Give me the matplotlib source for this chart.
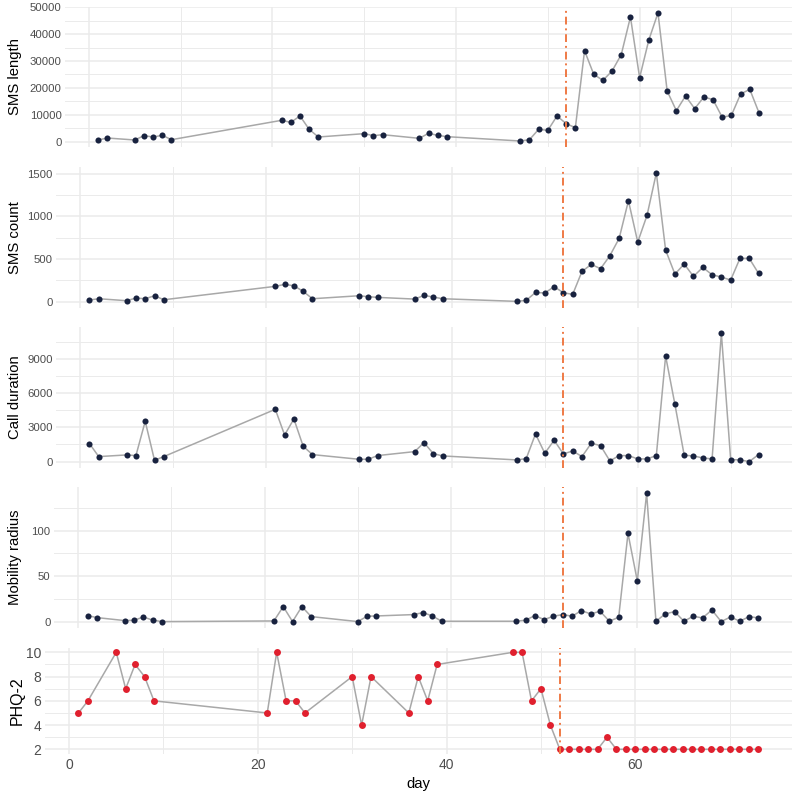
"""plot.py - daily phone sensing features and PHQ-2 scores"""

import matplotlib
matplotlib.use("Agg")
import matplotlib.pyplot as plt

# === DATA ===
DAYS = [1, 2, 5, 6, 7, 8, 9,
        21, 22, 23, 24, 25,
        30, 31, 32,
        36, 37, 38, 39,
        47, 48, 49, 50, 51, 52, 53, 54, 55, 56, 57, 58, 59, 60,
        61, 62, 63, 64, 65, 66, 67, 68, 69, 70, 71, 72, 73]

SMS_LENGTH = [620, 1360, 620, 2230, 1740, 2360, 740,
              7940, 7190, 9550, 4590, 1740,
              2980, 2230, 2600,
              1240, 3100, 2360, 1860,
              250, 740, 4590, 4220, 9550, 6700, 5200, 33850, 25050, 22800,
              26300, 32400, 46400, 23800,
              37800, 47900, 18850, 11530, 16990, 12280, 16620, 15620,
              9050, 9800, 17730, 19470, 10790]

SMS_COUNT = [20, 35, 12, 43, 35, 70, 23,
             180, 203, 187, 121, 35,
             70, 59, 51,
             31, 74, 55, 35,
             4, 16, 109, 102, 176, 105, 86, 355, 437, 387, 539, 742, 1183, 699,
             1012, 1508, 605, 324, 441, 297, 402, 316, 289, 254, 508, 508, 332]

CALL_DURATION = [1577, 438, 584, 526, 3533, 117, 438,
                 4584, 2336, 3738, 1343, 613,
                 204, 204, 526,
                 876, 1664, 701, 496,
                 146, 263, 2424, 730, 1869, 672, 934, 438, 1606, 1402, 58,
                 526, 526, 234,
                 234, 526, 9256, 5022, 555, 496, 321, 234, 11242, 175, 146,
                 0, 613]

MOBILITY_RADIUS = [6.6, 4.4, 1.1, 1.5, 5.1, 1.5, 0,
                   0.7, 16.5, 0, 16.5, 5.5,
                   0, 5.9, 6.2,
                   7.7, 9.9, 6.2, 0.4,
                   0.4, 1.5, 6.6, 2.2, 5.9, 7.7, 5.9, 12.1, 8.4, 11.4, 0.4,
                   4.8, 97, 44.7,
                   141, 0.4, 8.4, 11, 0.4, 5.9, 4, 12.8, 0, 5.1, 0.4, 5.5, 4]

PHQ2 = [5, 6, 10, 7, 9, 8, 6,
        5, 10, 6, 6, 5,
        8, 4, 8,
        5, 8, 6, 9,
        10, 10, 6, 7, 4, 2, 2, 2, 2, 2, 3, 2, 2, 2,
        2, 2, 2, 2, 2, 2, 2, 2, 2, 2, 2, 2, 2]

CHANGE_DAY = 52

X_MAJOR = [0, 20, 40, 60]
X_MINOR = [10, 30, 50, 70]

# === STYLE ===
FONT = ["Liberation Sans", "DejaVu Sans"]
plt.rcParams["font.family"] = FONT

FIG_W, FIG_H = 800, 795
GRID = "#EBEBEB"
LINE = "#A8A8A8"
NAVY = "#18223F"
RED = "#E0202E"
ORANGE = "#EF7A45"
TICK_TEXT = "#4D4D4D"

# panel boxes in pixels: left, top, right, bottom
PANELS = [
    dict(box=(65, 6.5, 792, 147.4), y=SMS_LENGTH, label="SMS length",
         major=[0, 10000, 20000, 30000, 40000, 50000],
         minor=[5000, 15000, 25000, 35000, 45000], color=NAVY),
    dict(box=(56, 166.6, 792, 307.8), y=SMS_COUNT, label="SMS count",
         major=[0, 500, 1000, 1500], minor=[250, 750, 1250], color=NAVY),
    dict(box=(56, 327, 792, 468), y=CALL_DURATION, label="Call duration",
         major=[0, 3000, 6000, 9000], minor=[1500, 4500, 7500, 10500],
         color=NAVY),
    dict(box=(54, 487, 792, 628), y=MOBILITY_RADIUS, label="Mobility radius",
         major=[0, 50, 100], minor=[25, 75, 125], color=NAVY),
    dict(box=(44.5, 647.5, 792, 754.2), y=PHQ2, label="PHQ-2",
         major=[2, 4, 6, 8, 10], minor=[3, 5, 7, 9], color=RED),
]

fig = plt.figure(figsize=(FIG_W / 100, FIG_H / 100), dpi=100)

for i, panel in enumerate(PANELS):
    left, top, right, bottom = panel["box"]
    ax = fig.add_axes([left / FIG_W, 1 - bottom / FIG_H,
                       (right - left) / FIG_W, (bottom - top) / FIG_H])
    is_last = i == len(PANELS) - 1

    ax.plot(DAYS, panel["y"], color=LINE, lw=1.1, zorder=2)
    ax.plot(DAYS, panel["y"], "o", color=panel["color"],
            ms=5.0 if is_last else 4.4, mec="none", zorder=3)
    ax.axvline(CHANGE_DAY, color=ORANGE, lw=1.4,
               linestyle=(0, (4, 2, 1, 2)), zorder=4)

    ax.margins(x=0.05, y=0.05)
    ax.set_xticks(X_MAJOR)
    ax.set_xticks(X_MINOR, minor=True)
    ax.set_yticks(panel["major"])
    ax.set_yticks(panel["minor"], minor=True)
    ax.grid(which="major", color=GRID, lw=1.1, zorder=0)
    ax.grid(which="minor", color=GRID, lw=0.7, zorder=0)
    ax.set_axisbelow(True)

    for spine in ax.spines.values():
        spine.set_visible(False)

    tick_size = 10 if is_last else 8.2
    ax.tick_params(which="both", length=0, labelsize=tick_size,
                   labelcolor=TICK_TEXT, pad=2.5)
    if not is_last:
        ax.tick_params(axis="x", labelbottom=False)

    ax.set_ylabel(panel["label"], fontsize=11.5 if is_last else 10.7,
                  color="black")
    label_right = 25 if is_last else 22
    ax.yaxis.set_label_coords((label_right - left) / (right - left), 0.5)

    if is_last:
        ax.set_xlabel("day", fontsize=10.7, color="black")
        ax.xaxis.set_label_coords(0.5, (bottom - 777) / (bottom - top))

plt.savefig("out.png", dpi=100)
